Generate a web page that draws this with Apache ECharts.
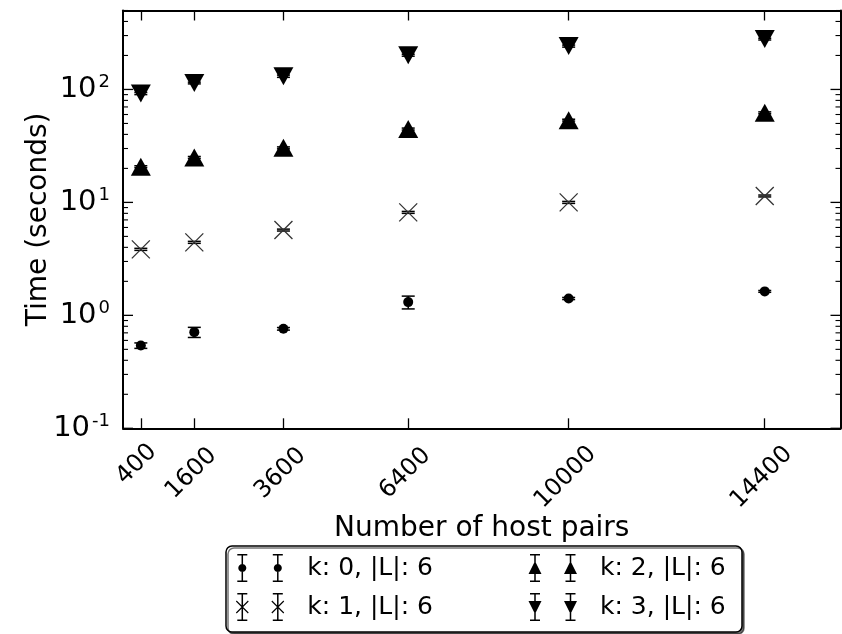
<!DOCTYPE html>
<html><head><meta charset="utf-8">
<script src="https://cdn.jsdelivr.net/npm/echarts@6/dist/echarts.min.js"></script>
<style>
html,body{margin:0;padding:0;background:#fff}
#wrap{position:relative;width:842px;height:634px}
#c,#t{position:absolute;left:0;top:0;width:842px;height:634px}
#t{pointer-events:none}
</style>
</head><body><div id="wrap"><div id="c"></div><div id="t"></div></div>
<script>
// ---------------- data ----------------
const hostPairs = [400, 1600, 3600, 6400, 10000, 14400];
const k0Time = [0.54, 0.71, 0.76, 1.31, 1.41, 1.63];
const k0Err  = [0.03, 0.073, 0.02, 0.17, 0.03, 0.03];
const k1Time = [3.84, 4.43, 5.69, 8.16, 10.0, 11.4];
const k1Err  = [0.08, 0.09, 0.11, 0.16, 0.2, 0.22];
const k2Time = [20.7, 25.0, 30.4, 44.6, 53.5, 62.1];
const k2Err  = [0.4, 0.5, 0.6, 0.9, 1.0, 1.2];
const k3Time = [92, 114, 131, 201, 242, 279];
const k3Err  = [2, 2, 3, 4, 5, 5];
const seriesNames = ['k: 0, |L|: 6', 'k: 1, |L|: 6', 'k: 2, |L|: 6', 'k: 3, |L|: 6'];
const yMajorTicks = [0.1, 1, 10, 100];
const yMinorMantissas = [2, 3, 4, 5, 6, 7, 8, 9];
const xMin = 0, xMax = 16100, yMin = 0.1, yMax = 500;

// ---------------- helpers ----------------
const FONT = 'DejaVu Sans';
const GRID = { left: 123, right: 1.5, top: 10.5, bottom: 205.7, containLabel: false, outerBoundsMode: 'none' };
const yMinorTicks = [];
yMajorTicks.forEach(d => yMinorMantissas.forEach(m => { const v = +(m * d).toPrecision(6); if (v <= yMax) yMinorTicks.push(v); }));
const yTickList = yMajorTicks.map(v => [v, 10]).concat(yMinorTicks.map(v => [v, 5]));

function poly(pts) {
  let a = 0;
  for (let i = 0; i < pts.length; i++) { const p = pts[i], q = pts[(i + 1) % pts.length]; a += p[0] * q[1] - q[0] * p[1]; }
  if (a > 0) pts = pts.slice().reverse();
  return 'M' + pts.map(p => p[0].toFixed(2) + ',' + p[1].toFixed(2)).join('L') + 'Z';
}
function seg(x1, y1, x2, y2, t) {
  const dx = x2 - x1, dy = y2 - y1, l = Math.hypot(dx, dy);
  const nx = -dy / l * t, ny = dx / l * t;
  return poly([[x1 + nx, y1 + ny], [x2 + nx, y2 + ny], [x2 - nx, y2 - ny], [x1 - nx, y1 - ny]]);
}
function errGlyph(cx) {
  return seg(cx, 1, cx, 27, 0.75) + seg(cx - 5, 0.75, cx + 5, 0.75, 0.75) + seg(cx - 5, 27.25, cx + 5, 27.25, 0.75);
}
function circ(cx, cy, r) { const p = []; for (let i = 0; i < 24; i++) { const a = i / 24 * Math.PI * 2; p.push([cx + r * Math.cos(a), cy + r * Math.sin(a)]); } return poly(p); }
const ICON_W = 67, ICON_H = 28, C1 = 7, C2 = 42.5;
const anchor = 'M0,0L0,0ZM' + ICON_W + ',' + ICON_H + 'L' + ICON_W + ',' + ICON_H + 'Z';
const glyph = [
  cx => errGlyph(cx) + circ(cx, 14, 4),
  cx => errGlyph(cx) + seg(cx - 6, 8, cx + 6, 20, 0.55) + seg(cx + 6, 8, cx - 6, 20, 0.55),
  cx => errGlyph(cx) + poly([[cx, 7], [cx - 6.5, 20], [cx + 6.5, 20]]),
  cx => errGlyph(cx) + poly([[cx - 6.5, 8], [cx + 6.5, 8], [cx, 21]])
];
const icons = glyph.map(g => 'path://' + anchor + g(C1) + g(C2));

function errRender(capHalf) {
  return function (params, api) {
    const x = api.value(0), y = api.value(1), e = api.value(2);
    const hi = api.coord([x, y + e]), lo = api.coord([x, y - e]);
    const st = { stroke: '#000', lineWidth: 1.5 };
    return { type: 'group', children: [
      { type: 'line', shape: { x1: hi[0], y1: hi[1], x2: lo[0], y2: lo[1] }, style: st },
      { type: 'line', shape: { x1: hi[0] - capHalf, y1: hi[1], x2: hi[0] + capHalf, y2: hi[1] }, style: st },
      { type: 'line', shape: { x1: lo[0] - capHalf, y1: lo[1], x2: lo[0] + capHalf, y2: lo[1] }, style: st }
    ] };
  };
}

const times = [k0Time, k1Time, k2Time, k3Time];
const errs = [k0Err, k1Err, k2Err, k3Err];
const markerDefs = [
  { symbol: 'circle', symbolSize: 10, itemStyle: { color: '#000', opacity: 1 } },
  { symbol: 'path://M0,0L10,10M10,0L0,10', symbolSize: 18, itemStyle: { color: 'transparent', borderColor: '#333', borderWidth: 1.3, opacity: 1 } },
  { symbol: 'triangle', symbolSize: [20, 18], itemStyle: { color: '#000', opacity: 1 } },
  { symbol: 'triangle', symbolSize: [20, 18], symbolRotate: 180, itemStyle: { color: '#000', opacity: 1 } }
];
const series = [];
seriesNames.forEach((name, s) => {
  series.push({
    name, type: 'custom', xAxisIndex: 0, yAxisIndex: 0, z: 2, silent: true, clip: false,
    renderItem: errRender(6.5), encode: { x: 0, y: 1 },
    data: hostPairs.map((x, i) => [x, times[s][i], errs[s][i]])
  });
});
seriesNames.forEach((name, s) => {
  series.push(Object.assign({
    name, type: 'scatter', xAxisIndex: 0, yAxisIndex: 0, z: 3, silent: true,
    data: hostPairs.map((x, i) => [x, times[s][i]])
  }, markerDefs[s]));
});

const axisLine = { show: true, onZero: false, lineStyle: { color: '#000', width: 2 } };
const lblRich = {};
[['d3', [0, 6, 6, 0]], ['d4', [8.5, 17, 0, 0]], ['d5', [14, 23, 0, 0]]].forEach(([k, p]) => {
  lblRich[k] = { fontSize: 24, fontFamily: FONT, color: '#000', padding: p };
});
const noLabel = { show: false };
const legendCommon = {
  orient: 'vertical', itemWidth: ICON_W, itemHeight: ICON_H, itemGap: 11,
  textStyle: { fontSize: 25, fontFamily: FONT, color: '#000' },
  itemStyle: { color: '#000', borderWidth: 0 }, selectedMode: false, inactiveColor: '#000'
};

const option = {
  animation: false,
  backgroundColor: '#fff',
  grid: GRID,
  xAxis: [
    {
      type: 'value', position: 'bottom', min: xMin, max: xMax,
      axisLine, splitLine: { show: false },
      axisTick: { show: true, inside: true, length: 10, lineStyle: { color: '#000', width: 1.3 }, customValues: hostPairs },
      axisLabel: {
        show: true, customValues: hostPairs, rotate: 45, align: 'center', verticalAlign: 'middle', margin: 36,
        fontSize: 24, fontFamily: FONT, color: '#000',
        formatter: v => '{d' + String(v).length + '|' + v + '}', rich: lblRich
      },
      name: 'Number of host pairs', nameLocation: 'middle', nameGap: 86, nameMoveOverlap: false,
      nameTextStyle: { fontSize: 28, fontFamily: FONT, color: '#000' }
    },
    {
      type: 'value', position: 'top', min: xMin, max: xMax,
      axisLine, splitLine: { show: false }, axisLabel: noLabel,
      axisTick: { show: true, inside: true, length: 10, lineStyle: { color: '#000', width: 1.3 }, customValues: hostPairs }
    }
  ],
  yAxis: [
    {
      type: 'log', logBase: 10, position: 'left', min: yMin, max: yMax,
      axisLine, splitLine: { show: false }, minorTick: { show: false },
      axisTick: { show: false },
      axisLabel: {
        show: true, customValues: yMajorTicks, margin: 13,
        formatter: v => { const e = Math.round(Math.log10(v)); return '{b|10}{s|' + e + '}'; },
        rich: {
          b: { fontSize: 29, fontFamily: FONT, color: '#000', lineHeight: 32 },
          s: { fontSize: 18, fontFamily: FONT, color: '#000', lineHeight: 14, verticalAlign: 'top', padding: [0, 0, 0, 2] }
        }
      },
      name: 'Time (seconds)', nameLocation: 'middle', nameGap: 70, nameMoveOverlap: false,
      nameTextStyle: { fontSize: 28, fontFamily: FONT, color: '#000' }
    },
    {
      type: 'log', logBase: 10, position: 'right', min: yMin, max: yMax,
      axisLine, splitLine: { show: false }, axisLabel: noLabel, axisTick: { show: false }, minorTick: { show: false }
    }
  ],
  legend: [
    Object.assign({}, legendCommon, {
      left: 226, top: 546, padding: [8, 309, 11, 9.3],
      backgroundColor: '#fff', borderColor: '#000', borderWidth: 1.5, borderRadius: 6,
      shadowColor: 'rgba(0,0,0,0.55)', shadowBlur: 0, shadowOffsetX: 2, shadowOffsetY: 2,
      data: [
        { name: seriesNames[0], icon: icons[0] },
        { name: seriesNames[1], icon: icons[1] }
      ]
    }),
    Object.assign({}, legendCommon, {
      left: 528, top: 554, padding: 0,
      data: [
        { name: seriesNames[2], icon: icons[2] },
        { name: seriesNames[3], icon: icons[3] }
      ]
    })
  ],
  series
};
const chart = echarts.init(document.getElementById('c'), null, { renderer: 'canvas' });
try { chart.setOption(option); } catch (e) { /* keep going so the tick overlay is still drawn */ }

// ---------------- y frame ticks (major + log minor), left and right ----------------
// Drawn in a transparent overlay chart that shares the same grid and log y scale.
function yTickRender(params, api) {
  const v = api.value(1), len = api.value(2);
  const pl = api.coord([xMin, v]), pr = api.coord([xMax, v]);
  const w = len > 6 ? 1.3 : 1.1;
  return { type: 'group', children: [
    { type: 'line', shape: { x1: pl[0], y1: pl[1], x2: pl[0] + len, y2: pl[1] }, style: { stroke: '#000', lineWidth: w } },
    { type: 'line', shape: { x1: pr[0], y1: pr[1], x2: pr[0] - len, y2: pr[1] }, style: { stroke: '#000', lineWidth: w } }
  ] };
}
const tickChart = echarts.init(document.getElementById('t'), null, { renderer: 'canvas' });
tickChart.setOption({
  animation: false,
  backgroundColor: 'transparent',
  grid: GRID,
  xAxis: { type: 'value', min: xMin, max: xMax, axisLine: { show: false }, axisTick: { show: false }, axisLabel: { show: false }, splitLine: { show: false } },
  yAxis: { type: 'log', logBase: 10, min: yMin, max: yMax, axisLine: { show: false }, axisTick: { show: false }, axisLabel: { show: false }, splitLine: { show: false }, minorTick: { show: false } },
  series: [{
    type: 'custom', name: 'yTicks', clip: false, encode: { x: 0, y: 1 },
    renderItem: yTickRender,
    data: yTickList.map(([v, len]) => [xMin, v, len])
  }]
});
</script></body></html>
